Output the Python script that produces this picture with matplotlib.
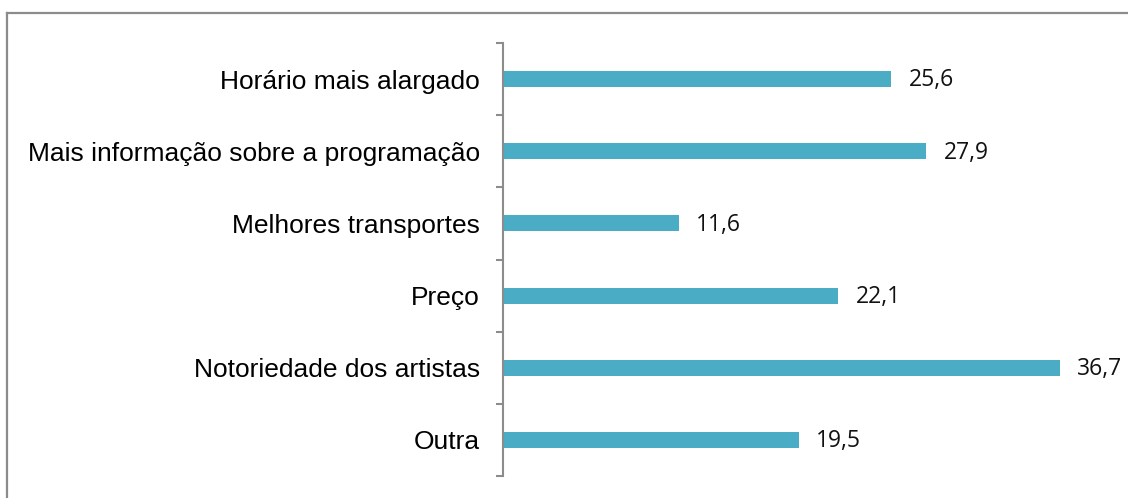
import matplotlib.pyplot as plt
import numpy as np
from matplotlib.lines import Line2D

# Chart data
categories = [
  "Horário mais alargado",
  "Mais informação sobre a programação",
  "Melhores transportes",
  "Preço",
  "Notoriedade dos artistas",
  "Outra",
]
values = [25.6, 27.9, 11.6, 22.1, 36.7, 19.5]
value_labels = ["25,6", "27,9", "11,6", "22,1", "36,7", "19,5"]

bar_color = "#4bacc6"
axis_color = "#8c8c8c"

fig = plt.figure(figsize=(11.28, 4.98), dpi=100)
ax = fig.add_axes([503 / 1128, 1 - 476 / 498, (1110 - 503) / 1128, (476 - 43) / 498])

positions = np.arange(len(categories))
ax.barh(positions, values, height=0.22, color=bar_color, zorder=2)

ax.set_xlim(0, 40)
ax.set_ylim(len(categories) - 0.5, -0.5)

# Value labels next to each bar
for pos, val, txt in zip(positions, values, value_labels):
  ax.annotate(txt, xy=(val, pos), xytext=(12.5, -1), textcoords="offset points",
              va="center", ha="left", fontsize=16.5, family="Open Sans", color="#111111")

# Tick marks on category boundaries, labels at centers
ax.set_yticks(np.arange(-0.5, len(categories), 1.0))
ax.set_yticklabels([])
ax.set_yticks(positions, minor=True)
ax.set_yticklabels(categories, minor=True, fontsize=19, family="Liberation Sans")
ax.tick_params(axis="y", which="major", length=5, width=1.5, color=axis_color)
ax.tick_params(axis="y", which="minor", length=0, pad=16.5)
ax.set_xticks([])

for side in ["top", "right", "bottom"]:
  ax.spines[side].set_visible(False)
ax.spines["left"].set_color(axis_color)
ax.spines["left"].set_linewidth(1.5)

# Outer frame (top and left edges visible)
fig.add_artist(Line2D([6.5 / 1128, 6.5 / 1128], [0, 1 - 13.5 / 498],
                      transform=fig.transFigure, color="#8c8c8c", lw=1.6))
fig.add_artist(Line2D([6.5 / 1128, 1], [1 - 13.5 / 498, 1 - 13.5 / 498],
                      transform=fig.transFigure, color="#8c8c8c", lw=1.6))

fig.savefig("out.png", dpi=100)
